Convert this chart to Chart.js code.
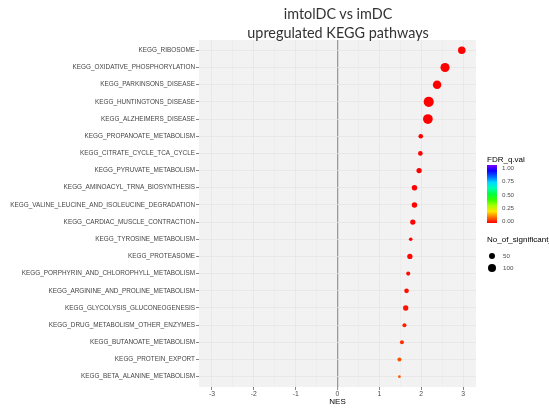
<!DOCTYPE html>
<html>
<head>
<meta charset="utf-8">
<script src="https://cdn.jsdelivr.net/npm/chart.js@4.4.1/dist/chart.umd.min.js"></script>
<style>
  html, body { margin: 0; padding: 0; background: #fff; overflow: hidden; }
  #wrap { position: relative; width: 549px; height: 410px; overflow: hidden; }
  #chart { position: absolute; left: 0; top: 0; }
  .title { position: absolute; left: 238px; width: 200px; text-align: center; top: 4px;
           font-family: Lato, 'Open Sans', sans-serif; font-size: 14.4px; line-height: 19px; color: #333; }
  .lg { position: absolute; font-family: 'Liberation Sans', Arial, sans-serif; white-space: nowrap; }
  .lg-title { font-size: 8px; color: #000; line-height: 10px; }
  .lg-lab { font-size: 6.2px; color: #4d4d4d; line-height: 8px; }
  .dot { position: absolute; background: #000; border-radius: 50%; }
</style>
</head>
<body>
<div id="wrap">
  <canvas id="chart" width="549" height="410"></canvas>
  <div class="title">imtolDC vs imDC<br>upregulated KEGG pathways</div>
  <div id="legend"></div>
</div>
<script>
// KEGG pathways, top to bottom
const pathways = [
  'KEGG_RIBOSOME',
  'KEGG_OXIDATIVE_PHOSPHORYLATION',
  'KEGG_PARKINSONS_DISEASE',
  'KEGG_HUNTINGTONS_DISEASE',
  'KEGG_ALZHEIMERS_DISEASE',
  'KEGG_PROPANOATE_METABOLISM',
  'KEGG_CITRATE_CYCLE_TCA_CYCLE',
  'KEGG_PYRUVATE_METABOLISM',
  'KEGG_AMINOACYL_TRNA_BIOSYNTHESIS',
  'KEGG_VALINE_LEUCINE_AND_ISOLEUCINE_DEGRADATION',
  'KEGG_CARDIAC_MUSCLE_CONTRACTION',
  'KEGG_TYROSINE_METABOLISM',
  'KEGG_PROTEASOME',
  'KEGG_PORPHYRIN_AND_CHLOROPHYLL_METABOLISM',
  'KEGG_ARGININE_AND_PROLINE_METABOLISM',
  'KEGG_GLYCOLYSIS_GLUCONEOGENESIS',
  'KEGG_DRUG_METABOLISM_OTHER_ENZYMES',
  'KEGG_BUTANOATE_METABOLISM',
  'KEGG_PROTEIN_EXPORT',
  'KEGG_BETA_ALANINE_METABOLISM'
];

// normalized enrichment score
const nes = [2.97, 2.57, 2.38, 2.18, 2.16, 1.99, 1.98, 1.95, 1.84, 1.84,
             1.80, 1.75, 1.73, 1.69, 1.65, 1.63, 1.60, 1.54, 1.48, 1.48];

// number of significant genes (point size)
const nSignificant = [76, 112, 98, 139, 128, 29, 29, 38, 40, 40,
                      38, 18, 38, 22, 30, 38, 22, 22, 22, 10];

// FDR q value (point colour)
const fdrQ = [0, 0, 0, 0, 0, 0, 0, 0, 0, 0,
              0.002, 0.004, 0.005, 0.008, 0.012, 0.015, 0.025, 0.04, 0.07, 0.075];

// axis ticks
const xTicks = [-3, -2.5, -2, -1.5, -1, -0.5, 0, 0.5, 1, 1.5, 2, 2.5, 3];
const fdrBreaks = [0, 0.25, 0.5, 0.75, 1];
const sizeBreaks = [50, 100];

// size scale: area proportional to count
function radiusFor(n) {
  return 0.43 * Math.sqrt(n);
}

// rainbow scale red (0) -> purple (1)
function colourFor(q) {
  return 'hsl(' + (270 * q).toFixed(1) + ', 100%, 50%)';
}

// panel background
const panelBg = {
  id: 'panelBg',
  beforeDraw(chart) {
    const a = chart.chartArea;
    const c = chart.ctx;
    c.save();
    c.fillStyle = '#f2f2f2';
    c.fillRect(a.left, a.top, a.right - a.left, a.bottom - a.top);
    c.restore();
  }
};

const points = pathways.map((p, i) => ({ x: nes[i], y: i + 1 }));

new Chart(document.getElementById('chart'), {
  type: 'scatter',
  data: {
    datasets: [{
      data: points,
      pointRadius: ctx => radiusFor(nSignificant[ctx.dataIndex]),
      pointHoverRadius: ctx => radiusFor(nSignificant[ctx.dataIndex]),
      pointBackgroundColor: ctx => colourFor(fdrQ[ctx.dataIndex]),
      pointBorderWidth: 0
    }]
  },
  options: {
    responsive: false,
    animation: false,
    layout: { padding: { left: 0, top: 40, right: 73, bottom: 0 } },
    plugins: {
      legend: { display: false },
      tooltip: { enabled: false }
    },
    scales: {
      x: {
        type: 'linear',
        min: -3.31,
        max: 3.31,
        afterBuildTicks: scale => { scale.ticks = xTicks.map(v => ({ value: v })); },
        afterFit: scale => { scale.height = 23; },
        border: { display: false },
        grid: {
          color: ctx => ctx.tick && ctx.tick.value === 0 ? '#9a9a9a'
            : (Number.isInteger(ctx.tick && ctx.tick.value) ? '#e4e4e4' : '#ebebeb'),
          lineWidth: ctx => ctx.tick && ctx.tick.value === 0 ? 1.3 : 0.8,
          tickColor: ctx => Number.isInteger(ctx.tick && ctx.tick.value) ? '#333' : 'rgba(0,0,0,0)',
          tickLength: 3,
          tickWidth: 0.6
        },
        ticks: {
          padding: 0,
          autoSkip: false,
          maxRotation: 0,
          color: '#4d4d4d',
          font: { family: "'Liberation Sans', Arial, sans-serif", size: 6.8 },
          callback: v => Number.isInteger(v) ? String(v) : ''
        },
        title: {
          display: true,
          text: 'NES',
          color: '#000',
          font: { family: "'Liberation Sans', Arial, sans-serif", size: 8 },
          padding: { top: 0, bottom: 3 }
        }
      },
      y: {
        type: 'linear',
        reverse: true,
        min: 0.4,
        max: 20.6,
        afterBuildTicks: scale => { scale.ticks = pathways.map((p, i) => ({ value: i + 1 })); },
        afterFit: scale => { scale.width = 199; },
        border: { display: false },
        grid: {
          color: '#e4e4e4',
          lineWidth: 0.8,
          tickColor: '#333',
          tickLength: 3,
          tickWidth: 0.6
        },
        ticks: {
          padding: 1,
          autoSkip: false,
          color: '#444',
          font: { family: "'Liberation Sans', Arial, sans-serif", size: 6.4 },
          callback: v => pathways[v - 1]
        }
      }
    }
  },
  plugins: [panelBg]
});

// legends (ggplot style, to the right of the panel)
const legend = document.getElementById('legend');
let html = '';
html += '<div class="lg lg-title" style="left:487px;top:155px">FDR_q.val</div>';
const grad = [0, 0.1, 0.2, 0.3, 0.4, 0.5, 0.6, 0.7, 0.8, 0.9, 1]
  .map(q => colourFor(q) + ' ' + (q * 100) + '%').join(',');
html += '<div class="lg" style="left:487px;top:165px;width:10px;height:58px;background:linear-gradient(to top,' + grad + ')"></div>';
fdrBreaks.forEach(q => {
  const y = 221 - q * 53;
  html += '<div class="lg lg-lab" style="left:502px;top:' + (y - 4) + 'px">' + q.toFixed(2) + '</div>';
});
html += '<div class="lg lg-title" style="left:487px;top:235px">No_of_significant_</div>';
sizeBreaks.forEach((n, i) => {
  const y = 256 + i * 12;
  const r = radiusFor(n);
  html += '<div class="dot" style="left:' + (492 - r) + 'px;top:' + (y - r) + 'px;width:' + (2 * r) + 'px;height:' + (2 * r) + 'px"></div>';
  html += '<div class="lg lg-lab" style="left:503px;top:' + (y - 4) + 'px">' + n + '</div>';
});
legend.innerHTML = html;
</script>
</body>
</html>
